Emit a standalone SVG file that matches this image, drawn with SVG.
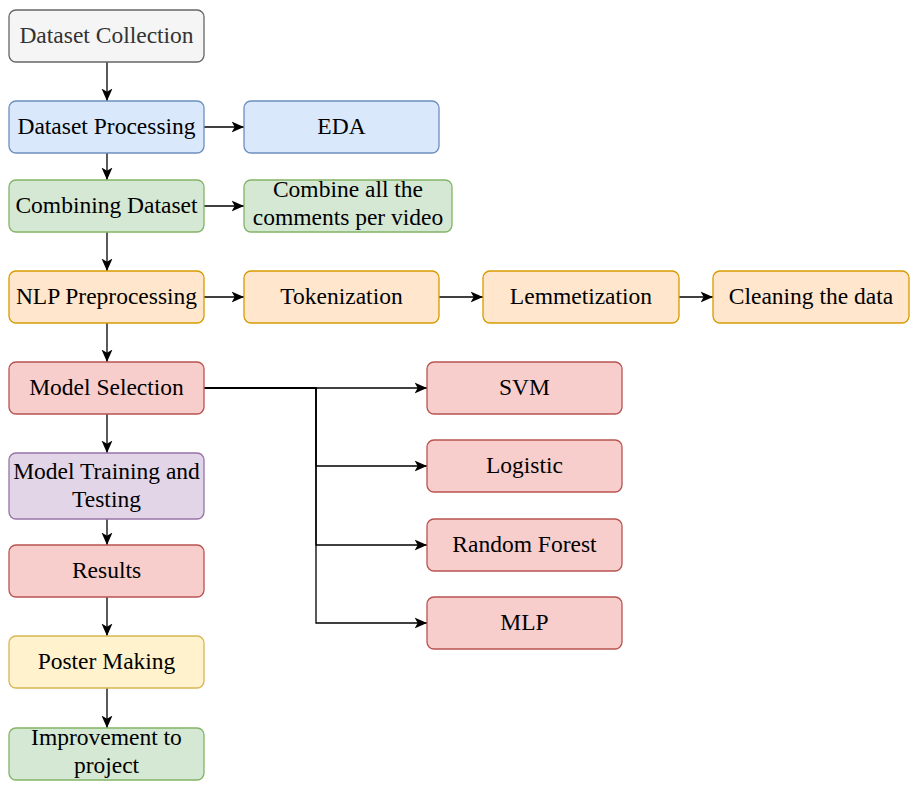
<svg xmlns="http://www.w3.org/2000/svg" width="917" height="791" viewBox="0 0 917 791">
<defs>
<style>
rect{stroke-width:1.3}
.gray{fill:#f5f5f5;stroke:#666666}
.blue{fill:#dae8fc;stroke:#6c8ebf}
.green{fill:#d5e8d4;stroke:#82b366}
.orange{fill:#ffe6cc;stroke:#d79b00}
.red{fill:#f8cecc;stroke:#b85450}
.purple{fill:#e1d5e7;stroke:#9673a6}
.yellow{fill:#fff2cc;stroke:#d6b656}
text{font-family:"Liberation Serif","Times New Roman",serif;font-size:23.5px;text-anchor:middle;fill:#000}
.edge{fill:none;stroke:#000;stroke-width:1.3}
</style>
<marker id="arr" markerUnits="userSpaceOnUse" markerWidth="14" markerHeight="14" refX="12.5" refY="7" orient="auto" viewBox="0 0 14 14">
<path d="M0,1.5 L12.5,7 L0,12.5 L3.2,7 Z" fill="#000"/>
</marker>
</defs>
<g id="connectors">
<path class="edge" d="M107,62 V101" marker-end="url(#arr)"/>
<path class="edge" d="M204,127 H244" marker-end="url(#arr)"/>
<path class="edge" d="M107,153 V180" marker-end="url(#arr)"/>
<path class="edge" d="M204,206 H244" marker-end="url(#arr)"/>
<path class="edge" d="M107,232 V271" marker-end="url(#arr)"/>
<path class="edge" d="M204,297 H244" marker-end="url(#arr)"/>
<path class="edge" d="M439,297 H483" marker-end="url(#arr)"/>
<path class="edge" d="M679,297 H713" marker-end="url(#arr)"/>
<path class="edge" d="M107,323 V362" marker-end="url(#arr)"/>
<path class="edge" d="M204,388 H427" marker-end="url(#arr)"/>
<path class="edge" d="M204,388 H316 V466 H427" marker-end="url(#arr)"/>
<path class="edge" d="M204,388 H316 V545 H427" marker-end="url(#arr)"/>
<path class="edge" d="M204,388 H316 V623 H427" marker-end="url(#arr)"/>
<path class="edge" d="M107,414 V453" marker-end="url(#arr)"/>
<path class="edge" d="M107,519 V545" marker-end="url(#arr)"/>
<path class="edge" d="M107,597 V636" marker-end="url(#arr)"/>
<path class="edge" d="M107,688 V728" marker-end="url(#arr)"/>
</g>
<g id="dataset-collection"><rect class="gray" x="9" y="10" width="195" height="52" rx="7"/><text x="106.5" y="43.3" style="fill:#333333">Dataset Collection</text></g>
<g id="dataset-processing"><rect class="blue" x="9" y="101" width="195" height="52" rx="7"/><text x="106.5" y="134.3">Dataset Processing</text></g>
<g id="eda"><rect class="blue" x="244" y="101" width="195" height="52" rx="7"/><text x="341.5" y="134.3">EDA</text></g>
<g id="combining-dataset"><rect class="green" x="9" y="180" width="195" height="52" rx="7"/><text x="106.5" y="213.3">Combining Dataset</text></g>
<g id="combine-comments"><rect class="green" x="244" y="180" width="208" height="52" rx="7"/><text x="348" y="197">Combine all the</text><text x="348" y="225">comments per video</text></g>
<g id="nlp-preprocessing"><rect class="orange" x="9" y="271" width="195" height="52" rx="7"/><text x="106.5" y="304.3">NLP Preprocessing</text></g>
<g id="tokenization"><rect class="orange" x="244" y="271" width="195" height="52" rx="7"/><text x="341.5" y="304.3">Tokenization</text></g>
<g id="lemmetization"><rect class="orange" x="483" y="271" width="196" height="52" rx="7"/><text x="581" y="304.3">Lemmetization</text></g>
<g id="cleaning"><rect class="orange" x="713" y="271" width="196" height="52" rx="7"/><text x="811" y="304.3">Cleaning the data</text></g>
<g id="model-selection"><rect class="red" x="9" y="362" width="195" height="52" rx="7"/><text x="106.5" y="395.3">Model Selection</text></g>
<g id="svm"><rect class="red" x="427" y="362" width="195" height="52" rx="7"/><text x="524.5" y="395.3">SVM</text></g>
<g id="logistic"><rect class="red" x="427" y="440" width="195" height="52" rx="7"/><text x="524.5" y="473.3">Logistic</text></g>
<g id="random-forest"><rect class="red" x="427" y="519" width="195" height="52" rx="7"/><text x="524.5" y="552.3">Random Forest</text></g>
<g id="mlp"><rect class="red" x="427" y="597" width="195" height="52" rx="7"/><text x="524.5" y="630.3">MLP</text></g>
<g id="model-training"><rect class="purple" x="9" y="453" width="195" height="66" rx="7"/><text x="106.5" y="478.5">Model Training and</text><text x="106.5" y="506.5">Testing</text></g>
<g id="results"><rect class="red" x="9" y="545" width="195" height="52" rx="7"/><text x="106.5" y="578.3">Results</text></g>
<g id="poster-making"><rect class="yellow" x="9" y="636" width="195" height="52" rx="7"/><text x="106.5" y="669.3">Poster Making</text></g>
<g id="improvement"><rect class="green" x="9" y="728" width="195" height="52" rx="7"/><text x="106.5" y="745">Improvement to</text><text x="106.5" y="773">project</text></g>
</svg>
